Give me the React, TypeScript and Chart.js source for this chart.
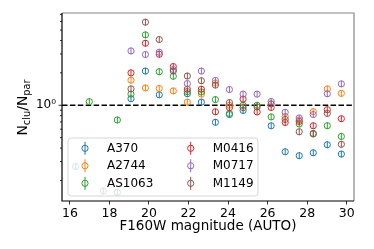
import React, { useEffect, useRef } from 'react';
import { Chart, registerables } from 'chart.js';
Chart.register(...registerables);

// ---- data ----
const magnitudes = [16.29, 16.98, 17.69, 18.4, 19.09, 19.82, 20.52, 21.23, 21.94, 22.65, 23.36, 24.07, 24.76, 25.47, 26.18, 26.89, 27.6, 28.31, 29.02, 29.73];
const seriesNames = ['A370', 'A2744', 'AS1063', 'M0416', 'M0717', 'M1149'];
const seriesColors = ['#1f77b4', '#ff7f0e', '#2ca02c', '#d62728', '#9467bd', '#8c564b'];
const A370 = [0.27, null, null, 0.155, 1.15, 2.08, 1.25, null, 1.28, 1.07, 0.695, 0.82, 0.895, null, 0.645, 0.37, 0.34, 0.362, 0.43, 0.352];
const A2744 = [null, null, null, null, 1.71, 1.45, 1.43, 1.36, 1.07, 1.27, 1.61, 1.0, null, null, null, 0.787, 0.73, 0.872, 1.42, 1.29];
const AS1063 = [null, 1.08, null, 0.73, 1.27, 4.51, 2.05, 1.86, 1.34, 1.33, 1.13, 0.84, 1.0, 1.0, 0.78, null, 0.67, 0.541, 0.646, 0.513];
const M0416 = [null, null, null, null, 2.0, 3.77, 2.98, 2.29, 1.41, 1.41, 0.87, 0.95, 1.14, 0.867, 0.954, 0.692, 0.707, 0.645, 0.91, 0.75];
const M0717 = [null, null, null, null, 3.2, 2.96, 3.11, 2.15, 1.59, 2.08, 1.7, 1.4, 1.27, 1.27, 1.085, 0.861, 0.762, 0.82, 1.28, 1.58];
const M1149 = [null, null, 0.16, null, 1.42, 5.92, 4.08, 2.08, 1.87, 1.69, 1.54, 1.06, 0.95, 0.965, 1.03, 0.738, 0.567, 0.547, 0.84, 0.434];
const seriesValues = [A370, A2744, AS1063, M0416, M0717, M1149];
const logError = 0.03; // half-length of error bars in dex
const xTicks = [16, 18, 20, 22, 24, 26, 28, 30];
const yMajorTicks = [1];
const yMinorTicks = [0.2, 0.3, 0.4, 0.5, 0.6, 0.7, 0.8, 0.9, 2, 3, 4, 5, 6, 7];
const refLevel = 1;
const xLabel = 'F160W magnitude (AUTO)';

const FONT = '"DejaVu Sans", sans-serif';
const MARKER_R = 3.1;

const customPlugin = {
  id: 'custom',
  beforeDatasetsDraw(chart: any) {
    const { ctx, chartArea } = chart;
    const y = chart.scales.y.getPixelForValue(refLevel);
    ctx.save();
    ctx.strokeStyle = '#000';
    ctx.lineWidth = 1.5;
    ctx.setLineDash([5.5, 2.4]);
    ctx.beginPath();
    ctx.moveTo(chartArea.left, y);
    ctx.lineTo(chartArea.right, y);
    ctx.stroke();
    ctx.restore();
  },
  afterDatasetDraw(chart: any, args: any) {
    const { ctx } = chart;
    const ys = chart.scales.y;
    const ds = chart.data.datasets[args.index];
    ctx.save();
    ctx.strokeStyle = ds.borderColor;
    ctx.lineWidth = 1;
    args.meta.data.forEach((el: any, i: number) => {
      const v = ds.data[i].y;
      const y1 = ys.getPixelForValue(v * Math.pow(10, logError));
      const y2 = ys.getPixelForValue(v / Math.pow(10, logError));
      ctx.beginPath();
      ctx.moveTo(el.x, y1);
      ctx.lineTo(el.x, y2);
      ctx.stroke();
    });
    ctx.restore();
  },
  afterDatasetsDraw(chart: any) {
    const { ctx, chartArea } = chart;
    const { left, right, top, bottom } = chartArea;
    const ys = chart.scales.y;
    ctx.save();
    // y ticks
    ctx.strokeStyle = '#000';
    ctx.lineWidth = 0.8;
    yMinorTicks.forEach((v) => {
      const y = ys.getPixelForValue(v);
      ctx.beginPath();
      ctx.moveTo(left, y);
      ctx.lineTo(left - 2, y);
      ctx.stroke();
    });
    yMajorTicks.forEach((v) => {
      const y = ys.getPixelForValue(v);
      ctx.beginPath();
      ctx.moveTo(left, y);
      ctx.lineTo(left - 3.5, y);
      ctx.stroke();
    });
    // spines
    ctx.lineWidth = 1.2;
    ctx.strokeStyle = '#888';
    ctx.beginPath();
    ctx.moveTo(left, top);
    ctx.lineTo(right, top);
    ctx.lineTo(right, bottom);
    ctx.stroke();
    ctx.strokeStyle = '#000';
    ctx.beginPath();
    ctx.moveTo(left, top);
    ctx.lineTo(left, bottom);
    ctx.lineTo(right, bottom);
    ctx.stroke();

    // legend
    const bx = 68, by = 138, bw = 190, bh = 58, r = 3;
    ctx.beginPath();
    ctx.moveTo(bx + r, by);
    ctx.lineTo(bx + bw - r, by);
    ctx.arcTo(bx + bw, by, bx + bw, by + r, r);
    ctx.lineTo(bx + bw, by + bh - r);
    ctx.arcTo(bx + bw, by + bh, bx + bw - r, by + bh, r);
    ctx.lineTo(bx + r, by + bh);
    ctx.arcTo(bx, by + bh, bx, by + bh - r, r);
    ctx.lineTo(bx, by + r);
    ctx.arcTo(bx, by, bx + r, by, r);
    ctx.closePath();
    ctx.fillStyle = 'rgba(255,255,255,0.8)';
    ctx.fill();
    ctx.strokeStyle = 'rgba(204,204,204,0.8)';
    ctx.lineWidth = 1;
    ctx.stroke();
    ctx.font = `12px ${FONT}`;
    ctx.textBaseline = 'middle';
    ctx.textAlign = 'left';
    const rowsY = [148.3, 165.8, 183.3];
    const colsX = [85, 190.7];
    seriesNames.forEach((name, i) => {
      const col = Math.floor(i / 3);
      const row = i % 3;
      const mx = colsX[col];
      const my = rowsY[row];
      ctx.strokeStyle = seriesColors[i];
      ctx.lineWidth = 1;
      ctx.beginPath();
      ctx.moveTo(mx, my - 6.5);
      ctx.lineTo(mx, my + 6.5);
      ctx.stroke();
      ctx.beginPath();
      ctx.arc(mx, my, MARKER_R, 0, Math.PI * 2);
      ctx.stroke();
      ctx.fillStyle = '#000';
      ctx.fillText(name, mx + 22, my + 0.5);
    });
    ctx.restore();
  },
  afterDraw(chart: any) {
    const { ctx } = chart;
    ctx.save();
    const big = `14px ${FONT}`;
    const small = `9.8px ${FONT}`;
    const parts: [string, string, number][] = [
      ['N', big, 0],
      ['clu', small, 3],
      ['/N', big, 0],
      ['par', small, 3],
    ];
    let total = 0;
    parts.forEach(([t, f]) => {
      ctx.font = f;
      total += ctx.measureText(t).width;
    });
    ctx.translate(26.7, 107.5);
    ctx.rotate(-Math.PI / 2);
    ctx.fillStyle = '#000';
    ctx.textBaseline = 'alphabetic';
    ctx.textAlign = 'left';
    let x = -total / 2;
    parts.forEach(([t, f, dy]) => {
      ctx.font = f;
      ctx.fillText(t, x, dy);
      x += ctx.measureText(t).width;
    });
    ctx.restore();
  },
};

export default function App() {
  const ref = useRef<HTMLCanvasElement | null>(null);
  useEffect(() => {
    if (!ref.current) return;
    Chart.defaults.font.family = FONT;
    Chart.defaults.color = '#000';
    const datasets = seriesNames.map((name, i) => ({
      label: name,
      data: magnitudes
        .map((m, j) => ({ x: m, y: seriesValues[i][j] }))
        .filter((p) => p.y !== null && p.y !== undefined),
      borderColor: seriesColors[i],
      backgroundColor: 'rgba(0,0,0,0)',
      pointRadius: MARKER_R,
      pointBorderWidth: 1,
      pointHoverRadius: MARKER_R,
      showLine: false,
      order: seriesNames.length - i,
    }));
    const chart = new Chart(ref.current, {
      type: 'scatter',
      data: { datasets },
      plugins: [customPlugin],
      options: {
        animation: false,
        responsive: false,
        devicePixelRatio: 1,
        layout: { padding: { left: 0, top: 13, right: 20, bottom: 0 } },
        plugins: { legend: { display: false }, tooltip: { enabled: false } },
        scales: {
          x: {
            type: 'linear',
            min: 15.6,
            max: 30.37,
            afterBuildTicks: (s: any) => {
              s.ticks = xTicks.map((v) => ({ value: v }));
            },
            afterFit: (s: any) => {
              s.height = 48;
            },
            grid: {
              display: true,
              drawOnChartArea: false,
              drawTicks: true,
              tickLength: 3.5,
              color: '#000',
              lineWidth: 0.8,
            },
            border: { display: false },
            ticks: {
              font: { size: 12.5, family: FONT },
              color: '#000',
              padding: 2,
              maxRotation: 0,
              autoSkip: false,
              callback: (v: any) => String(v),
            },
            title: {
              display: true,
              text: xLabel,
              font: { size: 13.5, family: FONT },
              color: '#000',
              padding: { top: 2, bottom: 14 },
            },
          },
          y: {
            type: 'logarithmic',
            min: 0.129,
            max: 7.2,
            afterBuildTicks: (s: any) => {
              s.ticks = yMajorTicks.map((v) => ({ value: v }));
            },
            afterFit: (s: any) => {
              s.width = 62;
            },
            grid: { display: false, drawTicks: true, tickLength: 4 },
            border: { display: false },
            ticks: {
              font: { size: 12, family: FONT },
              color: '#000',
              padding: 2,
              autoSkip: false,
              callback: (v: any) => (v === 1 ? '10⁰' : ''),
            },
          },
        },
      } as any,
    });
    return () => chart.destroy();
  }, []);
  return (
    <canvas
      ref={ref}
      width={374}
      height={249}
      style={{ position: 'fixed', left: 0, top: 0, width: 374, height: 249 }}
    />
  );
}
